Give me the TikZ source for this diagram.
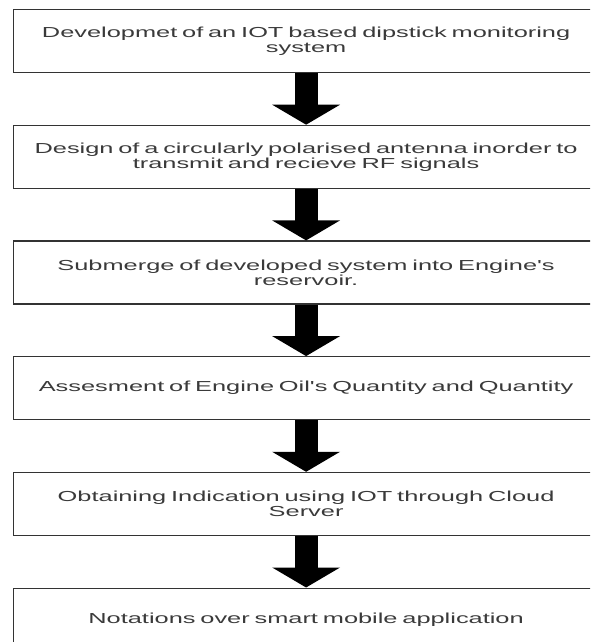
\documentclass[tikz,border=0pt]{standalone}
\usepackage{fontspec}
\newfontfamily\boxfont[FakeStretch=1.75]{Liberation Sans}
\usetikzlibrary{positioning,arrows.meta}
\definecolor{boxgray}{HTML}{333333}
\definecolor{textgray}{HTML}{3A3A3A}

\begin{document}
\begin{tikzpicture}[
			stepbox/.style={draw=boxgray,line width=1.2pt,rectangle,minimum width=585pt,minimum height=63pt,
				text width=580pt,align=center,inner sep=0pt,text=textgray,
				font=\boxfont\fontsize{14.5}{15}\selectfont},
			flowarrow/.style={line width=23pt,-{Triangle[length=20pt,width=67pt]}},
			node distance=51.5pt]
			\useasboundingbox (0,0) rectangle (590pt,-642pt);
			\clip (0,0) rectangle (590pt,-642pt);
			\node (dev) [stepbox,anchor=north west] at (13pt,-9pt)
				{Developmet of an IOT based dipstick monitoring\\system};
			\node (antenna) [stepbox,below=of dev]
				{Design of a circularly polarised antenna inorder to\\transmit and recieve RF signals};
			\node (submerge) [stepbox,below=of antenna]
				{Submerge of developed system into Engine's\\reservoir.};
			\node (assess) [stepbox,below=of submerge]
				{Assesment of Engine Oil's Quantity and Quantity};
			\node (cloud) [stepbox,below=of assess]
				{Obtaining Indication using IOT through Cloud\\Server};
			\node (mobile) [stepbox,below=of cloud]
				{Notations over smart mobile application};
			\draw [flowarrow] (dev) -- (antenna);
			\draw [flowarrow] (antenna) -- (submerge);
			\draw [flowarrow] (submerge) -- (assess);
			\draw [flowarrow] (assess) -- (cloud);
			\draw [flowarrow] (cloud) -- (mobile);
		\end{tikzpicture}
\end{document}
